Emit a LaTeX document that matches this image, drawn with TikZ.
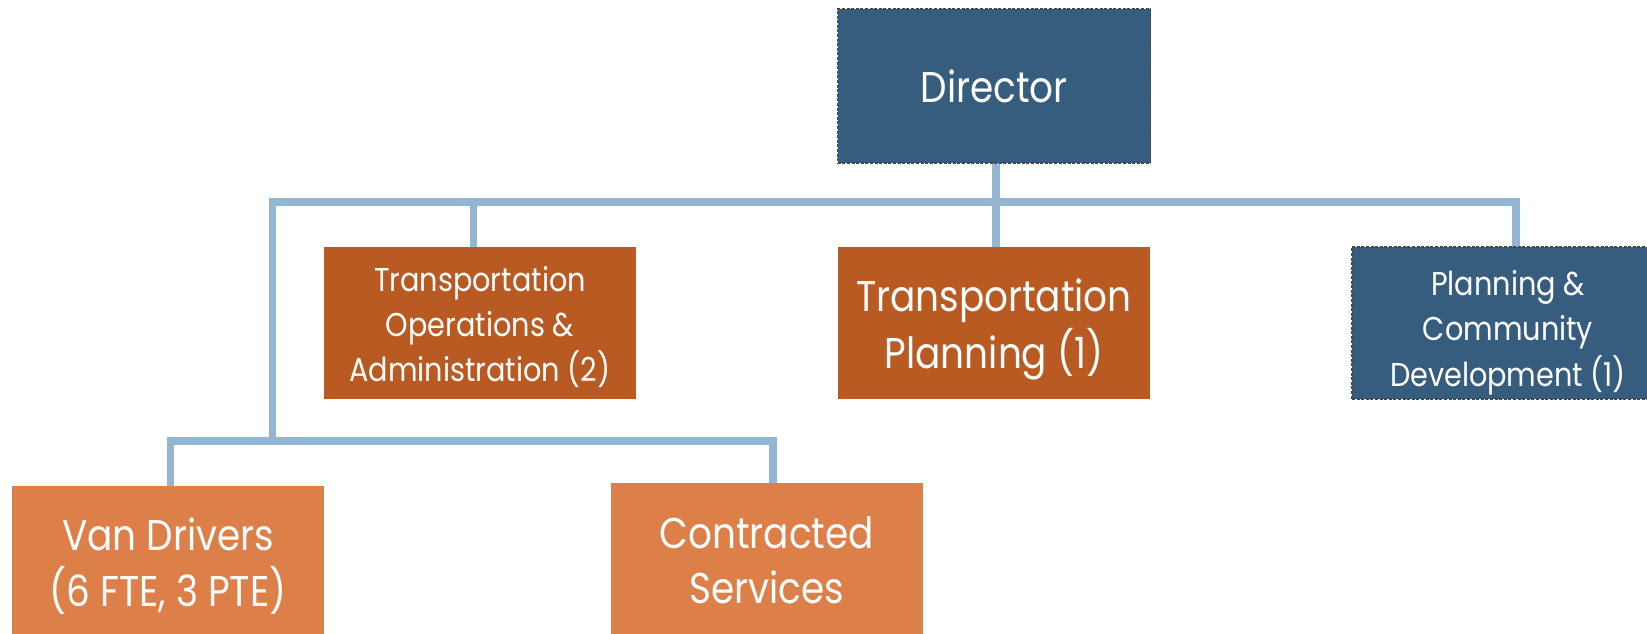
\documentclass[tikz,border=0pt]{standalone}
\usepackage{fontspec}
\setmainfont[FakeStretch=0.87]{Poppins}
\pgfdeclarelayer{bg}
\pgfsetlayers{bg,main}
\definecolor{dirblue}{HTML}{365D7E}
\definecolor{dashgray}{HTML}{3D4A56}
\definecolor{rust}{HTML}{B95A23}
\definecolor{tangerine}{HTML}{DD7F48}
\definecolor{linkblue}{HTML}{95B6D3}
\newcommand{\orglines}[1]{\begin{tabular}[t]{@{}c@{}}#1\end{tabular}}
\tikzset{
  orgbox/.style={rectangle, inner sep=0pt, outer sep=0pt, text=white,
    minimum width=312pt, minimum height=152pt},
  darkbox/.style={orgbox, fill=dirblue, draw=dashgray, line width=1.1pt, dash pattern=on 3pt off 1.6pt},
  rustbox/.style={orgbox, fill=rust},
  lightbox/.style={orgbox, fill=tangerine},
  big/.style={font=\fontsize{43}{55.5}\selectfont},
  small/.style={font=\fontsize{33}{45}\selectfont},
  shiftby/.style={text height=20pt, text depth=20pt+#1},
  conn/.style={draw=linkblue, line width=7.6pt, line join=miter}
}
\begin{document}
\begin{tikzpicture}[x=1pt,y=-1pt]
\useasboundingbox (0,0) rectangle (1647,634);
\clip (0,0) rectangle (1647,634);
\node[darkbox, minimum width=313pt, minimum height=154pt, font=\fontsize{43}{50}\selectfont,
  text height=45pt, text depth=11.6pt] (dir) at (994.2,86) {Director};
\node[rustbox, small, shiftby=62.6pt] (toa) at (480,323) {\orglines{Transportation\\Operations \&\\Administration (2)}};
\node[rustbox, big, shiftby=22.6pt] (tp) at (994,323) {\orglines{Transportation\\Planning (1)}};
\node[darkbox, small, shiftby=56pt, font=\fontsize{33}{45.8}\selectfont] (pcd) at (1508,323) {\orglines{Planning \&\\Community\\Development (1)}};
\node[lightbox, big, shiftby=24pt] (van) at (168,562) {\orglines{Van Drivers\\(6 FTE, 3 PTE)}};
\node[lightbox, big, shiftby=22pt] (cs) at (766.8,559) {\orglines{Contracted\\Services}};
\coordinate (bus) at (996,202);
\coordinate (hub) at (272.5,441);
\begin{pgfonlayer}{bg}
\draw[conn] ([xshift=1.8pt]dir.south) -- ([xshift=2pt]tp.north);
\draw[conn] ([xshift=-6.5pt]toa.north) |- (bus) -| ([xshift=8pt]pcd.north);
\draw[conn] (hub) |- (bus);
\draw[conn] ([xshift=2.5pt]van.north) |- (hub) -| ([xshift=6.2pt]cs.north);
\end{pgfonlayer}
\end{tikzpicture}
\end{document}
